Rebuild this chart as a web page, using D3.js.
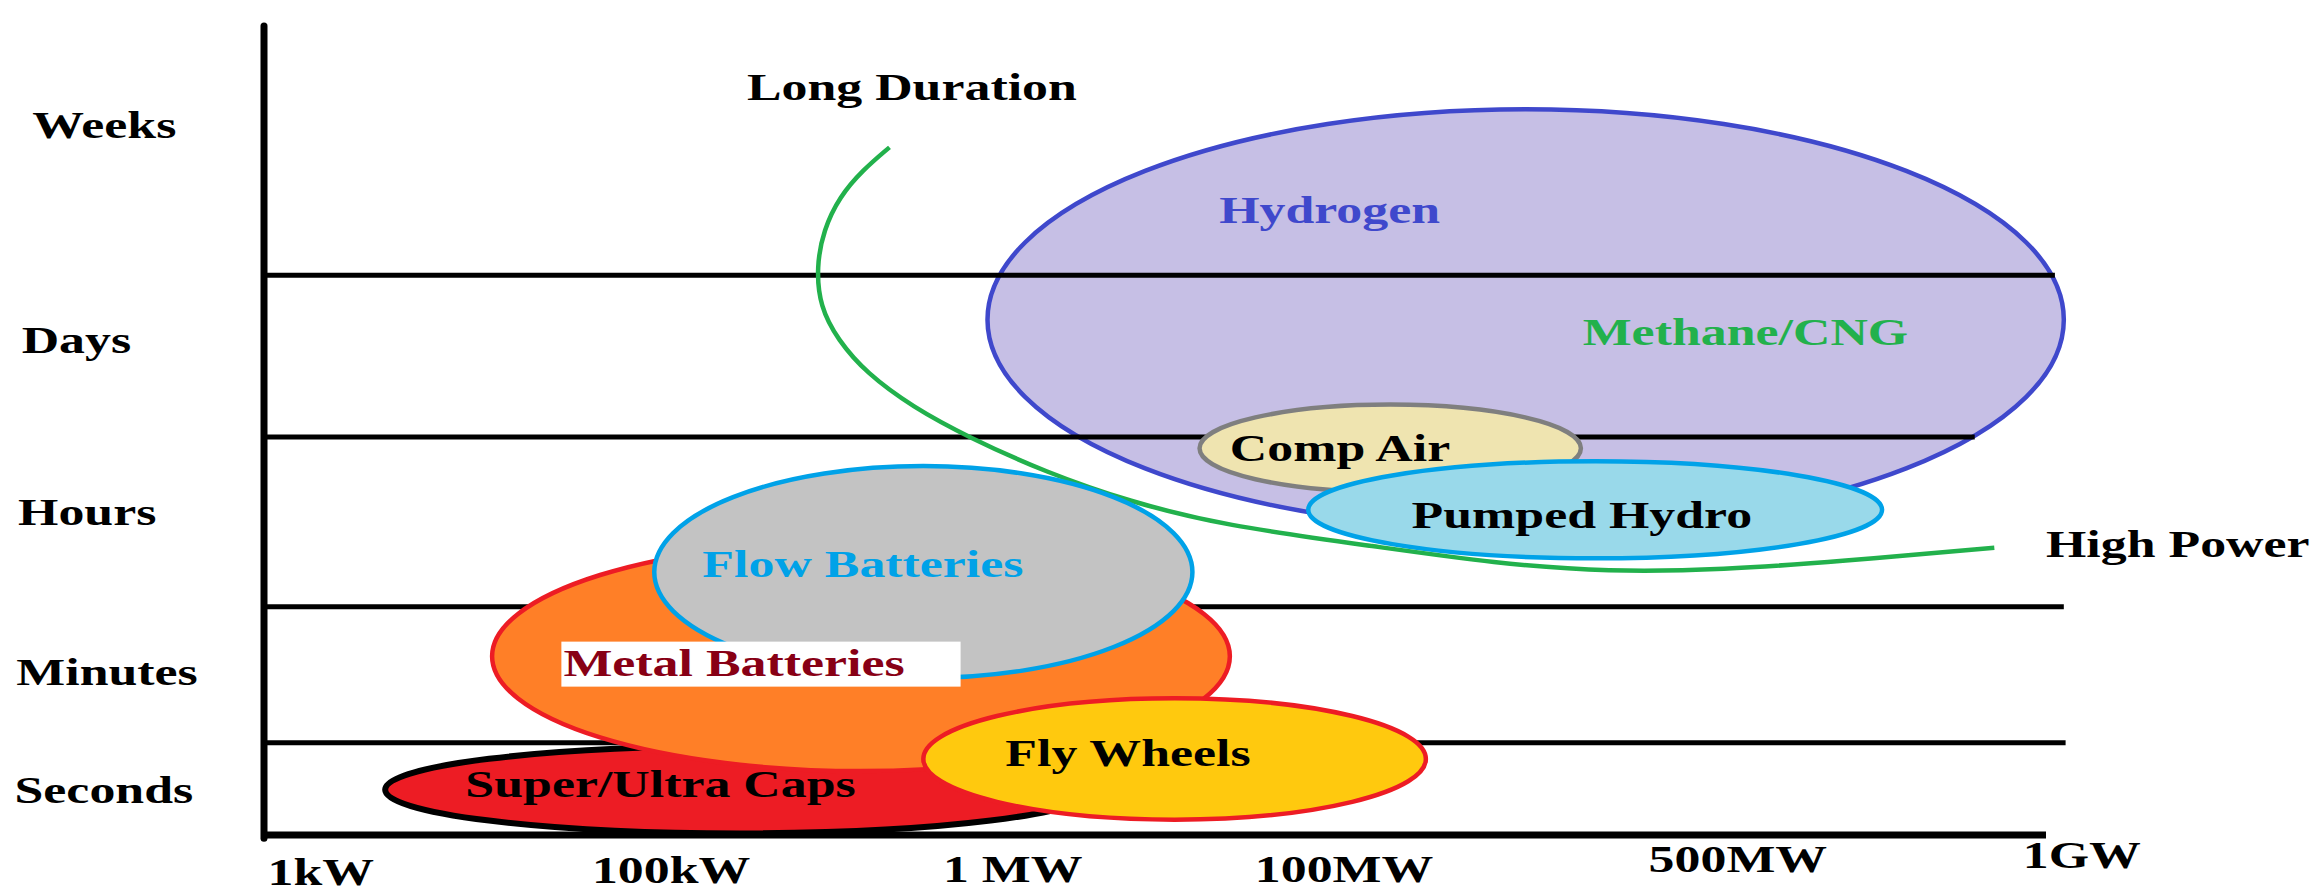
<!DOCTYPE html>
<html>
<head>
<meta charset="utf-8">
<script src="https://cdn.jsdelivr.net/npm/d3@7"></script>
<style>
body { margin: 0; background: #fff; }
text { font-family: "Liberation Serif", "Times New Roman", serif; font-weight: bold; font-size: 39px; }
</style>
</head>
<body>
<div id="chart"></div>
<script>
// duration bands (y) and power levels (x), in diagram units 0..100
var durationLabels = ["Weeks", "Days", "Hours", "Minutes", "Seconds"];
var durationValues = [86.2, 59.6, 38.3, 18.5, 4.0];
var durationLabelX = [-13.0, -13.6, -13.8, -13.9, -14.0];

var powerLabels = ["1kW", "100kW", "1 MW", "100MW", "500MW", "1GW"];
var powerValues = [0.2, 18.4, 38.1, 55.6, 77.7, 98.7];
var powerLabelY = [-6.2, -5.9, -5.8, -5.8, -4.6, -4.1];

var bandEdges = [69.2, 49.2, 28.2, 11.4];
var bandEnds = [100.5, 96.0, 101.0, 101.1];

// storage technologies (drawing order)
var techNames = ["Hydrogen", "Comp Air", "Pumped Hydro", "Super/Ultra Caps", "Metal Batteries", "Flow Batteries", "Fly Wheels"];
var techPower = [70.8, 63.2, 74.7, 26.7, 33.5, 37.0, 51.1];
var techDuration = [63.7, 47.8, 40.2, 5.6, 22.1, 32.5, 9.4];
var techPowerSpread = [30.2, 10.7, 16.1, 19.9, 20.7, 15.1, 14.1];
var techDurationSpread = [26.0, 5.4, 6.0, 5.4, 14.2, 13.1, 7.5];
var techLabelX = [53.6, 54.2, 64.4, 11.3, 16.8, 24.6, 41.6];
var techLabelY = [75.6, 46.2, 37.9, 4.7, 19.7, 31.9, 8.5];
var techFill = ["#c6bfe5", "#efe4b0", "#99d9ea", "#ed1c24", "#ff7f27", "#c3c3c3", "#ffc90e"];
var techStroke = ["#3f48cc", "#7f7f7f", "#00a2e8", "#000000", "#ed1c24", "#00a2e8", "#ed1c24"];
var techText = ["#3f48cc", "#000000", "#000000", "#000000", "#880015", "#00a2e8", "#000000"];

// green boundary curve between long duration and high power
var trendPower = [35.1, 33.6, 32.3, 31.4, 31.0, 31.2, 32.2, 33.8, 36.4, 39.5, 43.9, 48.6, 53.7, 62.6, 69.0, 75.5, 81.9, 88.4, 97.1];
var trendDuration = [85.0, 82.2, 78.9, 74.8, 70.2, 65.3, 61.2, 57.1, 52.9, 49.2, 44.8, 41.2, 38.3, 35.6, 33.6, 32.5, 32.8, 33.8, 35.5];

var width = 2318, height = 894;
var stretch = 1.33;

var svg = d3.select('#chart').append('svg').attr('width', width).attr('height', height);

var x = d3.scaleLinear().domain([0, 100]).range([264, 2046]);
var y = d3.scaleLinear().domain([0, 100]).range([835, 26]);

function label(sel, px, py, txt, color) {
	return sel.append('text')
		.attr('transform', 'translate(' + px + ',' + py + ') scale(' + stretch + ',1)')
		.attr('fill', color)
		.text(txt);
}

function drawTech(i) {
	svg.append('ellipse')
		.attr('cx', x(techPower[i]))
		.attr('cy', y(techDuration[i]))
		.attr('rx', x(techPowerSpread[i]) - x(0))
		.attr('ry', y(0) - y(techDurationSpread[i]))
		.attr('fill', techFill[i])
		.attr('stroke', techStroke[i])
		.attr('stroke-width', i == 3 ? 6 : 4.5);
}

// hydrogen sits under the grid lines
drawTech(0);

svg.selectAll('line.band').data(bandEdges).enter().append('line')
	.attr('class', 'band')
	.attr('x1', x(0))
	.attr('x2', function(d, i) { return x(bandEnds[i]); })
	.attr('y1', function(d) { return y(d); })
	.attr('y2', function(d) { return y(d); })
	.attr('stroke', '#000')
	.attr('stroke-width', 5);

drawTech(1);
drawTech(2);

var line = d3.line()
	.x(function(d, i) { return x(trendPower[i]); })
	.y(function(d, i) { return y(trendDuration[i]); })
	.curve(d3.curveBasis);

svg.append('path')
	.datum(trendPower)
	.attr('d', line)
	.attr('fill', 'none')
	.attr('stroke', '#22b14c')
	.attr('stroke-width', 4.5);

for (var i = 3; i < techNames.length; i++) drawTech(i);

// axes
svg.append('line').attr('x1', x(0)).attr('x2', x(0)).attr('y1', y(100)).attr('y2', y(-0.4))
	.attr('stroke', '#000').attr('stroke-width', 7).attr('stroke-linecap', 'round');
svg.append('line').attr('x1', x(0)).attr('x2', x(100)).attr('y1', y(0)).attr('y2', y(0))
	.attr('stroke', '#000').attr('stroke-width', 7);

// labels inside the ellipses
techNames.forEach(function(name, i) {
	if (name == 'Metal Batteries') return;
	label(svg, x(techLabelX[i]), y(techLabelY[i]), name, techText[i]);
});
label(svg, x(74.0), y(60.6), 'Methane/CNG', '#22b14c');

// metal batteries label sits on a white box
var mi = techNames.indexOf('Metal Batteries');
var mb = svg.append('rect').attr('fill', '#fff');
var mt = label(svg, x(techLabelX[mi]), y(techLabelY[mi]), techNames[mi], techText[mi]);
var bb = mt.node().getBBox();
mb.attr('x', x(techLabelX[mi]) - 2)
	.attr('y', y(techLabelY[mi]) - 34)
	.attr('width', bb.width * stretch + 58)
	.attr('height', 45);
mt.raise();

// tick labels
durationLabels.forEach(function(t, i) {
	label(svg, x(durationLabelX[i]), y(durationValues[i]), t, '#000');
});
powerLabels.forEach(function(t, i) {
	label(svg, x(powerValues[i]), y(powerLabelY[i]), t, '#000');
});

label(svg, x(27.1), y(90.9), 'Long Duration', '#000');
label(svg, x(100.0), y(34.4), 'High Power', '#000');
</script>
</body>
</html>
